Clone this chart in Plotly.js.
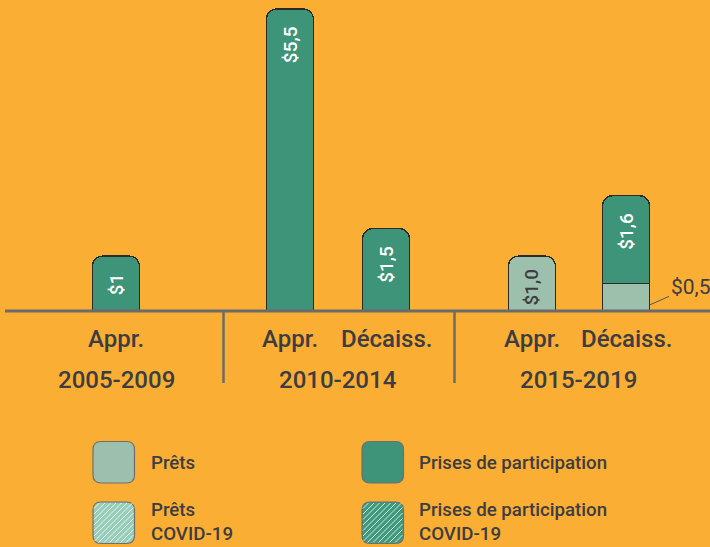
<!DOCTYPE html>
<html>
<head>
<meta charset="utf-8">
<script src="https://cdn.plot.ly/plotly-3.0.1.min.js"></script>
<style>
  html, body { margin: 0; padding: 0; background: #FBAE34; }
  #chart { width: 710px; height: 547px; }
</style>
</head>
<body>
<div id="chart"></div>
<script>
// ---- DATA ----
const periods = ['2005-2009', '2010-2014', '2010-2014', '2015-2019', '2015-2019'];
const barTypes = ['Appr.', 'Appr.', 'Décaiss.', 'Appr.', 'Décaiss.'];
const pretsValues = [null, null, null, 1.0, 0.5];
const participationValues = [1.0, 5.5, 1.5, null, 1.6];
const pretsLabels = ['', '', '', '$1,0', ''];
const participationLabels = ['$1', '$5,5', '$1,5', '', '$1,6'];
const pretsCalloutLabel = '$0,5';
const legendNames = ['Prêts', 'Prises de participation', 'Prêts<br>COVID-19', 'Prises de participation<br>COVID-19'];

// ---- LAYOUT / STYLE ----
const W = 710, H = 547;
const slotX = [1.0, 2.8125, 3.8125, 5.333, 6.3125];   // bar slot positions (axis units)
const barWidth = 0.49;
const pxPerX = 96, pxPerY = 54.9, baseY = 311, firstBarPx = 116;
const xRange = [1 - firstBarPx / pxPerX, 1 + (W - firstBarPx) / pxPerX];
const yRange = [-(H - baseY) / pxPerY, baseY / pxPerY];

const ORANGE = '#FBAE34';
const GREEN = '#3D9478';
const LIGHT = '#9CC0AB';
const TEXT = '#3C3D42';
const FONT = 'Roboto, "DejaVu Sans", sans-serif';
const NB = '\u00A0';   // gap between bar top and its label

const px = x => x / W;
const py = y => 1 - y / H;

const traces = [
  {
    type: 'bar', name: 'Prêts', x: slotX, y: pretsValues, width: barWidth,
    text: pretsLabels, texttemplate: '%{text}' + NB + NB,
    textposition: 'inside', insidetextanchor: 'end', textangle: -90,
    textfont: {family: FONT, size: 19, color: TEXT, weight: 500},
    marker: {color: LIGHT, line: {color: '#2A2A2A', width: 1.3}},
    hoverinfo: 'skip'
  },
  {
    type: 'bar', name: 'Prises de participation', x: slotX, y: participationValues, width: barWidth,
    text: participationLabels, texttemplate: '%{text}' + NB + NB + NB,
    textposition: 'inside', insidetextanchor: 'end', textangle: -90,
    textfont: {family: FONT, size: 19, color: '#FFFFFF', weight: 500},
    marker: {color: GREEN, line: {color: '#2A2A2A', width: 1.3}},
    hoverinfo: 'skip'
  }
];

const shapes = [];
const annotations = [];

// baseline axis
shapes.push({type: 'line', xref: 'paper', yref: 'paper', x0: px(5), x1: px(W), y0: py(baseY), y1: py(baseY),
  line: {color: '#6B6B6B', width: 3}});
// group dividers
[223.5, 454.5].forEach(x => shapes.push({type: 'line', xref: 'paper', yref: 'paper',
  x0: px(x), x1: px(x), y0: py(baseY), y1: py(383), line: {color: '#6B6B6B', width: 2.5}}));

// category labels
barTypes.forEach((t, i) => annotations.push({x: slotX[i], xref: 'x', y: py(339), yref: 'paper',
  text: t, showarrow: false, xanchor: 'center', yanchor: 'middle',
  font: {family: FONT, size: 24, color: TEXT, weight: 500}}));
// period labels
[...new Set(periods)].forEach(p => {
  const xs = slotX.filter((_, i) => periods[i] === p);
  const cx = xs.reduce((a, b) => a + b, 0) / xs.length;
  annotations.push({x: cx, xref: 'x', y: py(380), yref: 'paper', text: p, showarrow: false,
    xanchor: 'center', yanchor: 'middle', font: {family: FONT, size: 24, color: TEXT, weight: 500}});
});

// callout for small Prêts segment
const ci = pretsValues.length - 1;
annotations.push({x: slotX[ci] + barWidth / 2, xref: 'x', y: pretsValues[ci] * 0.22, yref: 'y',
  text: pretsCalloutLabel, showarrow: true, arrowhead: 0, arrowwidth: 1, arrowcolor: '#555555',
  ax: 41, ay: -18, standoff: 0, xanchor: 'center', yanchor: 'middle',
  font: {family: FONT, size: 21, color: TEXT}});

// legend
function roundRect(x0, y0, s, r) {
  const p = (x, y) => px(x) + ',' + py(y);
  return 'M' + p(x0 + r, y0) + ' L' + p(x0 + s - r, y0) + ' Q' + p(x0 + s, y0) + ' ' + p(x0 + s, y0 + r) +
    ' L' + p(x0 + s, y0 + s - r) + ' Q' + p(x0 + s, y0 + s) + ' ' + p(x0 + s - r, y0 + s) +
    ' L' + p(x0 + r, y0 + s) + ' Q' + p(x0, y0 + s) + ' ' + p(x0, y0 + s - r) +
    ' L' + p(x0, y0 + r) + ' Q' + p(x0, y0) + ' ' + p(x0 + r, y0) + ' Z';
}
function hatch(x0, y0, s, d, inset) {
  let path = '';
  for (let t = d; t < 2 * s; t += d) {
    const u0 = Math.max(0, t - s), u1 = Math.min(s, t);
    if (u1 - u0 < inset) continue;
    const a = [x0 + u0, y0 + (t - u0)], b = [x0 + u1, y0 + (t - u1)];
    path += 'M' + px(a[0]) + ',' + py(a[1]) + ' L' + px(b[0]) + ',' + py(b[1]) + ' ';
  }
  return path;
}
const legendItems = [
  {x: 93, y: 441.5, fill: '#9CC0AD', hatch: false, tx: 149, ty: 463},
  {x: 362, y: 441.5, fill: GREEN, hatch: false, tx: 417, ty: 463},
  {x: 93, y: 502, fill: '#98CDBA', hatch: true, tx: 149, ty: 522},
  {x: 362, y: 502, fill: '#3F9A7D', hatch: true, tx: 417, ty: 522}
];
legendItems.forEach((it, i) => {
  shapes.push({type: 'path', xref: 'paper', yref: 'paper', path: roundRect(it.x, it.y, 41.5, 8),
    fillcolor: it.fill, line: {color: '#6E6E6E', width: 1.2}, layer: 'above'});
  if (it.hatch) {
    shapes.push({type: 'path', xref: 'paper', yref: 'paper', path: hatch(it.x + 1, it.y + 1, 39.5, 5.5, 3),
      line: {color: 'rgba(255,255,255,0.75)', width: 1}, layer: 'above'});
  }
  annotations.push({x: px(it.tx), xref: 'paper', y: py(it.ty), yref: 'paper', text: legendNames[i],
    showarrow: false, xanchor: 'left', yanchor: 'middle', align: 'left',
    font: {family: FONT, size: 18.7, color: TEXT, weight: 500}});
});

const layout = {
  width: W, height: H,
  margin: {l: 0, r: 0, t: 0, b: 0, pad: 0},
  paper_bgcolor: ORANGE, plot_bgcolor: ORANGE,
  barmode: 'stack', barcornerradius: 10,
  showlegend: false,
  xaxis: {range: xRange, visible: false, fixedrange: true},
  yaxis: {range: yRange, visible: false, fixedrange: true},
  uniformtext: {mode: false},
  shapes: shapes,
  annotations: annotations
};

Plotly.newPlot('chart', traces, layout, {displayModeBar: false, staticPlot: true});
</script>
</body>
</html>
